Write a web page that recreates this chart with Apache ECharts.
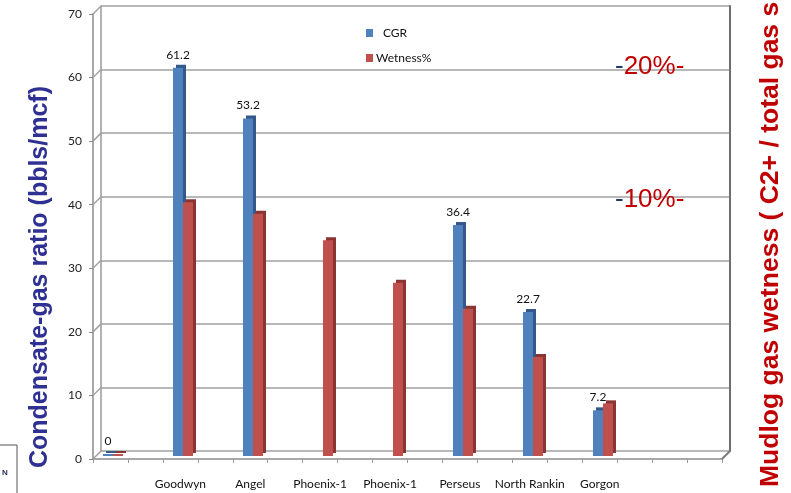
<!DOCTYPE html>
<html>
<head>
<meta charset="utf-8">
<script src="https://cdn.jsdelivr.net/npm/echarts@6/dist/echarts.min.js"></script>
<style>
  html, body { margin: 0; padding: 0; background: #ffffff; }
  #chart { width: 791px; height: 493px; }
</style>
</head>
<body>
<div id="chart"></div>
<script>
// Well slots along the floor; blank entries are spacer slots with no label.
const categories = ['', '', 'Goodwyn', '', 'Angel', '', 'Phoenix-1', '', 'Phoenix-1', '', 'Perseus', '', 'North Rankin', '', 'Gorgon', '', '', ''];
// Condensate-gas ratio, bbls/mcf
const cgr = [0, null, 61.2, null, 53.2, null, null, null, null, null, 36.4, null, 22.7, null, 7.2, null, null, null];
// Mudlog wetness, plotted on the same left scale
const wetness = [0, null, 40.0, null, 38.2, null, 34.0, null, 27.3, null, 23.2, null, 15.6, null, 8.3, null, null, null];
// Value axis range and step
const yMin = 0, yMax = 70, yStep = 10;
// Wetness marks written on the back wall, tied to left-scale gridlines
const wetnessMarks = [{ label: '20%', at: 60, dy: -3 }, { label: '10%', at: 40, dy: 3 }];

const W = 791, H = 493;
// back wall, bar plane and front edge of the pseudo-3D box
const BACK = { left: 101, right: 61, top: 6, bottom: 42 };
const BARS = { left: 95.5, right: 65.5, top: 12, bottom: 37 };
const FRONT = { left: 93, right: 69, top: 14, bottom: 34 };

const textFont = 'Lato';
const chart = echarts.init(document.getElementById('chart'), null, { renderer: 'canvas' });

const valueAxisBase = { type: 'value', min: yMin, max: yMax, interval: yStep };

chart.setOption({
  animation: false,
  backgroundColor: '#ffffff',
  grid: [
    Object.assign({}, BACK),
    Object.assign({}, BARS),
    Object.assign({}, FRONT)
  ],
  legend: [
    {
      data: ['CGR'], orient: 'vertical', left: 361, top: 22,
      itemWidth: 7, itemHeight: 8, icon: 'rect',
      textStyle: { fontFamily: textFont, fontSize: 12, color: '#111', padding: [0, 0, 0, 5] }
    },
    {
      data: ['Wetness%'], orient: 'vertical', left: 361, top: 47,
      itemWidth: 7, itemHeight: 8, icon: 'rect',
      textStyle: { fontFamily: textFont, fontSize: 12, color: '#111', padding: [0, 0, 0, -2] }
    }
  ],
  xAxis: [
    { type: 'category', gridIndex: 0, data: categories, show: false },
    { type: 'category', gridIndex: 1, data: categories, show: false },
    {
      type: 'category', gridIndex: 2, data: categories,
      axisLine: { show: true, lineStyle: { color: '#8a8a8a', width: 1.5 } },
      axisTick: { show: true, interval: 0, length: 4, lineStyle: { color: '#9a9a9a', width: 1 } },
      axisLabel: { interval: 1, margin: 19, fontFamily: textFont, fontSize: 12, color: '#111' },
      splitLine: { show: false }
    }
  ],
  yAxis: [
    Object.assign({}, valueAxisBase, {
      gridIndex: 0, position: 'left',
      axisLine: { show: true, lineStyle: { color: '#9a9a9a', width: 1.5 } },
      axisTick: { show: false }, axisLabel: { show: false },
      splitLine: { show: true, lineStyle: { color: '#a0a0a0', width: 1.5 } }
    }),
    Object.assign({}, valueAxisBase, {
      gridIndex: 0, position: 'right',
      axisLine: { show: true, lineStyle: { color: '#6e6e6e', width: 2 } },
      axisTick: { show: false }, axisLabel: { show: false },
      splitLine: { show: false }
    }),
    Object.assign({}, valueAxisBase, { gridIndex: 1, show: false, splitLine: { show: false } }),
    Object.assign({}, valueAxisBase, {
      gridIndex: 2, position: 'left',
      axisLine: { show: true, lineStyle: { color: '#8a8a8a', width: 1.5 } },
      axisTick: { show: true, length: 4, lineStyle: { color: '#8a8a8a' } },
      axisLabel: { margin: 11, fontFamily: textFont, fontSize: 12, color: '#222' },
      splitLine: { show: false }
    })
  ],
  series: [
    {
      name: 'CGR', type: 'bar', xAxisIndex: 1, yAxisIndex: 2, data: cgr,
      barWidth: 10, barGap: '0%', barMinHeight: 2,
      itemStyle: {
        color: '#4f81bd',
        shadowColor: '#34588a', shadowBlur: 0, shadowOffsetX: 3, shadowOffsetY: -3
      },
      label: {
        show: true, position: 'top', distance: 7,
        fontFamily: textFont, fontSize: 12, color: '#111',
        formatter: p => (p.value === null || p.value === undefined) ? '' : String(p.value)
      }
    },
    {
      name: 'Wetness%', type: 'bar', xAxisIndex: 1, yAxisIndex: 2, data: wetness,
      barWidth: 10, barGap: '0%', barMinHeight: 2,
      itemStyle: {
        color: '#c0504d',
        shadowColor: '#8a3532', shadowBlur: 0, shadowOffsetX: 3, shadowOffsetY: -3
      }
    }
  ]
});

// Side wall, floor corner, titles and wall annotations placed through the axes' scales
function yBack(v) { return chart.convertToPixel({ yAxisIndex: 0 }, v); }
function yFront(v) { return chart.convertToPixel({ yAxisIndex: 3 }, v); }

const gfx = [];
for (let v = yMin; v <= yMax; v += yStep) {
  gfx.push({
    type: 'line', silent: true, z: 1,
    shape: { x1: FRONT.left, y1: yFront(v), x2: BACK.left, y2: yBack(v) },
    style: { stroke: '#a0a0a0', lineWidth: 1.5 }
  });
}
gfx.push({
  type: 'line', silent: true, z: 1,
  shape: { x1: W - FRONT.right, y1: yFront(yMin), x2: W - BACK.right, y2: yBack(yMin) },
  style: { stroke: '#7a7a7a', lineWidth: 2 }
});

wetnessMarks.forEach(m => {
  gfx.push({
    type: 'text', silent: true, z: 10,
    x: 615, y: yBack(m.at) + m.dy,
    style: {
      text: '{n|-}{r|' + m.label + '-}',
      verticalAlign: 'middle', align: 'left',
      rich: {
        n: { fill: '#1f3864', fontSize: 26, fontFamily: 'Liberation Sans' },
        r: { fill: '#c00000', fontSize: 26, fontFamily: 'Liberation Sans' }
      }
    }
  });
});

gfx.push({
  type: 'text', silent: true, z: 10,
  x: 40, y: 277, rotation: Math.PI / 2,
  style: {
    text: 'Condensate-gas ratio (bbls/mcf)',
    fontFamily: 'Liberation Sans', fontWeight: 'bold', fontSize: 25,
    fill: '#2e3192', align: 'center', verticalAlign: 'middle'
  }
});
gfx.push({
  type: 'text', silent: true, z: 10,
  x: 771, y: 487, rotation: Math.PI / 2,
  style: {
    text: 'Mudlog gas wetness ( C2+ / total gas s',
    fontFamily: 'Liberation Sans', fontWeight: 'bold', fontSize: 26.5,
    fill: '#c00000', align: 'left', verticalAlign: 'middle'
  }
});

// corner logo box, mostly outside the page
gfx.push({
  type: 'rect', silent: true, z: 10,
  shape: { x: -2, y: 445, width: 19, height: 60 },
  style: { fill: null, stroke: '#555', lineWidth: 1 }
});
gfx.push({
  type: 'text', silent: true, z: 10,
  x: 2, y: 473,
  style: { text: 'N', fontFamily: 'Liberation Sans', fontWeight: 'bold', fontSize: 8, fill: '#1f2a5c', verticalAlign: 'middle' }
});

chart.setOption({ graphic: gfx });
</script>
</body>
</html>
